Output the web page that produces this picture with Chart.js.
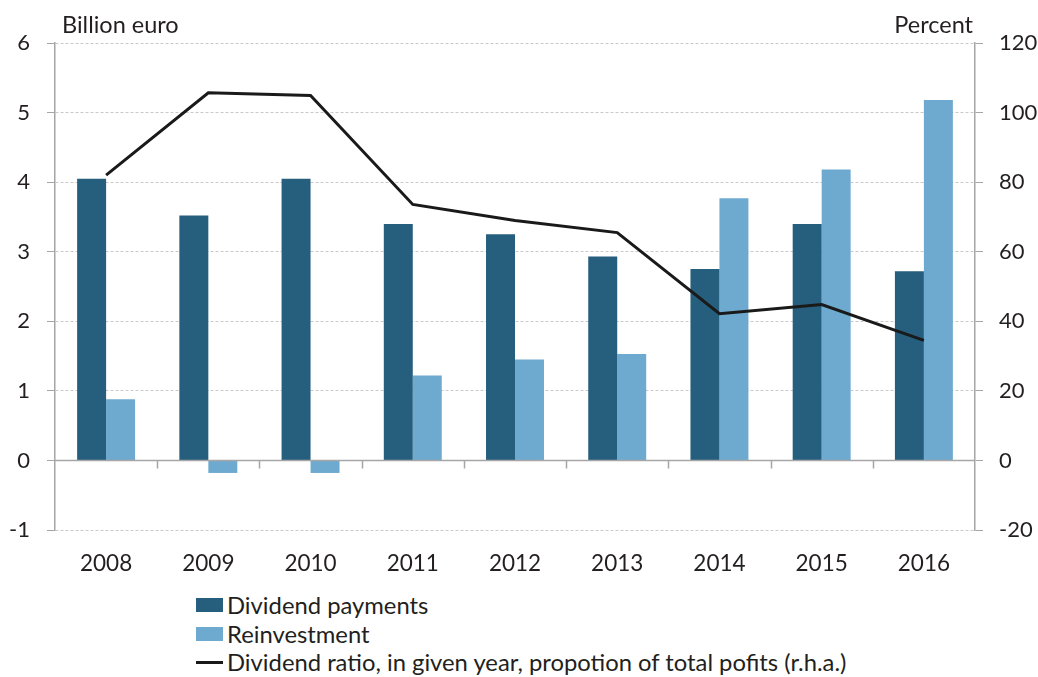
<!DOCTYPE html>
<html>
<head>
<meta charset="utf-8">
<script src="https://cdn.jsdelivr.net/npm/chart.js@4.4.0/dist/chart.umd.min.js"></script>
<style>
  body { margin: 0; background: #fff; font-family: Lato, "Open Sans", sans-serif; }
  #wrap { position: relative; width: 1038px; height: 677px; }
  #grafica { position: absolute; left: 0; top: 0; }
  #leyenda { position: absolute; left: 196px; top: 591px; color: #231f20; font-size: 23.8px; line-height: 28.5px; }
  .item { display: flex; align-items: center; white-space: nowrap; }
  .caja { width: 27px; height: 14px; margin-right: 4px; }
  .linea { width: 27px; height: 3px; background: #1a1a1a; margin-right: 4px; }
</style>
</head>
<body>
<div id="wrap">
  <canvas id="grafica" width="1038" height="590"></canvas>
  <div id="leyenda"></div>
</div>
<script>
//Datos
const anios = ['2008', '2009', '2010', '2011', '2012', '2013', '2014', '2015', '2016'];
const dividendos = [4.05, 3.52, 4.05, 3.40, 3.25, 2.93, 2.75, 3.40, 2.72];
const reinversion = [0.88, -0.18, -0.18, 1.22, 1.45, 1.53, 3.77, 4.18, 5.18];
const ratioDividendo = [82, 105.7, 104.9, 73.6, 69, 65.5, 42.2, 44.8, 34.5];

const nombres = ['Dividend payments', 'Reinvestment', 'Dividend ratio, in given year, propotion of total pofits (r.h.a.)'];
const colorOscuro = '#265e7e';
const colorClaro = '#6eaacf';
const colorLinea = '#1a1a1a';
const colorTexto = '#231f20';
const fuente = 'Lato, "Open Sans", sans-serif';

Chart.defaults.font.family = fuente;
Chart.defaults.color = colorTexto;

//Titulos de los ejes y marcas del eje de categorias en el cero
const extras = {
    id: 'extras',
    afterDraw(chart) {
        const ctx = chart.ctx;
        const area = chart.chartArea;
        const x = chart.scales.x;
        const y = chart.scales.y;
        const y0 = y.getPixelForValue(0);
        ctx.save();
        ctx.strokeStyle = '#a6a6a6';
        ctx.lineWidth = 1.5;
        ctx.beginPath();
        ctx.moveTo(area.left, y0);
        ctx.lineTo(area.right, y0);
        for (let i = 1; i < anios.length; i++) {
            const px = Math.round((x.getPixelForValue(i - 1) + x.getPixelForValue(i)) / 2) + 0.5;
            ctx.moveTo(px, y0);
            ctx.lineTo(px, y0 + 8);
        }
        ctx.stroke();
        ctx.fillStyle = colorTexto;
        ctx.font = '23.5px ' + fuente;
        ctx.textBaseline = 'middle';
        ctx.textAlign = 'left';
        ctx.fillText('Billion euro', area.left + 7, 25);
        ctx.textAlign = 'right';
        ctx.fillText('Percent', area.right - 2, 25);
        ctx.restore();
    }
};

const ctx = document.getElementById('grafica').getContext('2d');
const grafica = new Chart(ctx, {
    type: 'bar',
    data: {
        labels: anios,
        datasets: [{
            type: 'line',
            label: nombres[2],
            data: ratioDividendo,
            yAxisID: 'y2',
            borderColor: colorLinea,
            borderWidth: 3,
            pointRadius: 0,
            tension: 0,
            order: 0
        }, {
            label: nombres[0],
            data: dividendos,
            yAxisID: 'y',
            backgroundColor: colorOscuro,
            categoryPercentage: 0.567,
            barPercentage: 1,
            order: 1
        }, {
            label: nombres[1],
            data: reinversion,
            yAxisID: 'y',
            backgroundColor: colorClaro,
            categoryPercentage: 0.567,
            barPercentage: 1,
            order: 1
        }]
    },
    options: {
        responsive: false,
        animation: false,
        layout: { padding: { top: 43, left: 0, right: 0, bottom: 0 } },
        plugins: {
            legend: { display: false },
            tooltip: { enabled: false }
        },
        scales: {
            x: {
                grid: { display: false, drawTicks: false },
                border: { display: false },
                ticks: { font: { size: 22.5 }, padding: 20, color: colorTexto },
                afterFit: s => { s.height = 60; }
            },
            y: {
                position: 'left',
                min: -1,
                max: 6,
                ticks: { stepSize: 1, font: { size: 22 }, padding: 17, color: colorTexto },
                grid: {
                    color: c => c.tick && c.tick.value === 0 ? 'rgba(0,0,0,0)' : '#c9c9c9',
                    tickColor: '#a6a6a6',
                    tickLength: 8,
                    lineWidth: 1,
                    drawOnChartArea: true
                },
                border: { color: '#a6a6a6', width: 1.5, dash: [3, 2] },
                afterFit: s => { s.width = 55; }
            },
            y2: {
                position: 'right',
                min: -20,
                max: 120,
                ticks: { stepSize: 20, font: { size: 22 }, padding: 16, color: colorTexto },
                grid: { drawOnChartArea: false, tickColor: '#a6a6a6', tickLength: 8 },
                border: { color: '#a6a6a6', width: 1.5 },
                afterFit: s => { s.width = 63; }
            }
        }
    },
    plugins: [extras]
});

//Leyenda en columna
const leyenda = document.getElementById('leyenda');
[1, 2, 0].forEach(i => {
    const ds = grafica.data.datasets[i];
    const fila = document.createElement('div');
    fila.className = 'item';
    const marca = document.createElement('span');
    if (ds.type === 'line') {
        marca.className = 'linea';
    } else {
        marca.className = 'caja';
        marca.style.background = ds.backgroundColor;
    }
    fila.appendChild(marca);
    fila.appendChild(document.createTextNode(ds.label));
    leyenda.appendChild(fila);
});
</script>
</body>
</html>
